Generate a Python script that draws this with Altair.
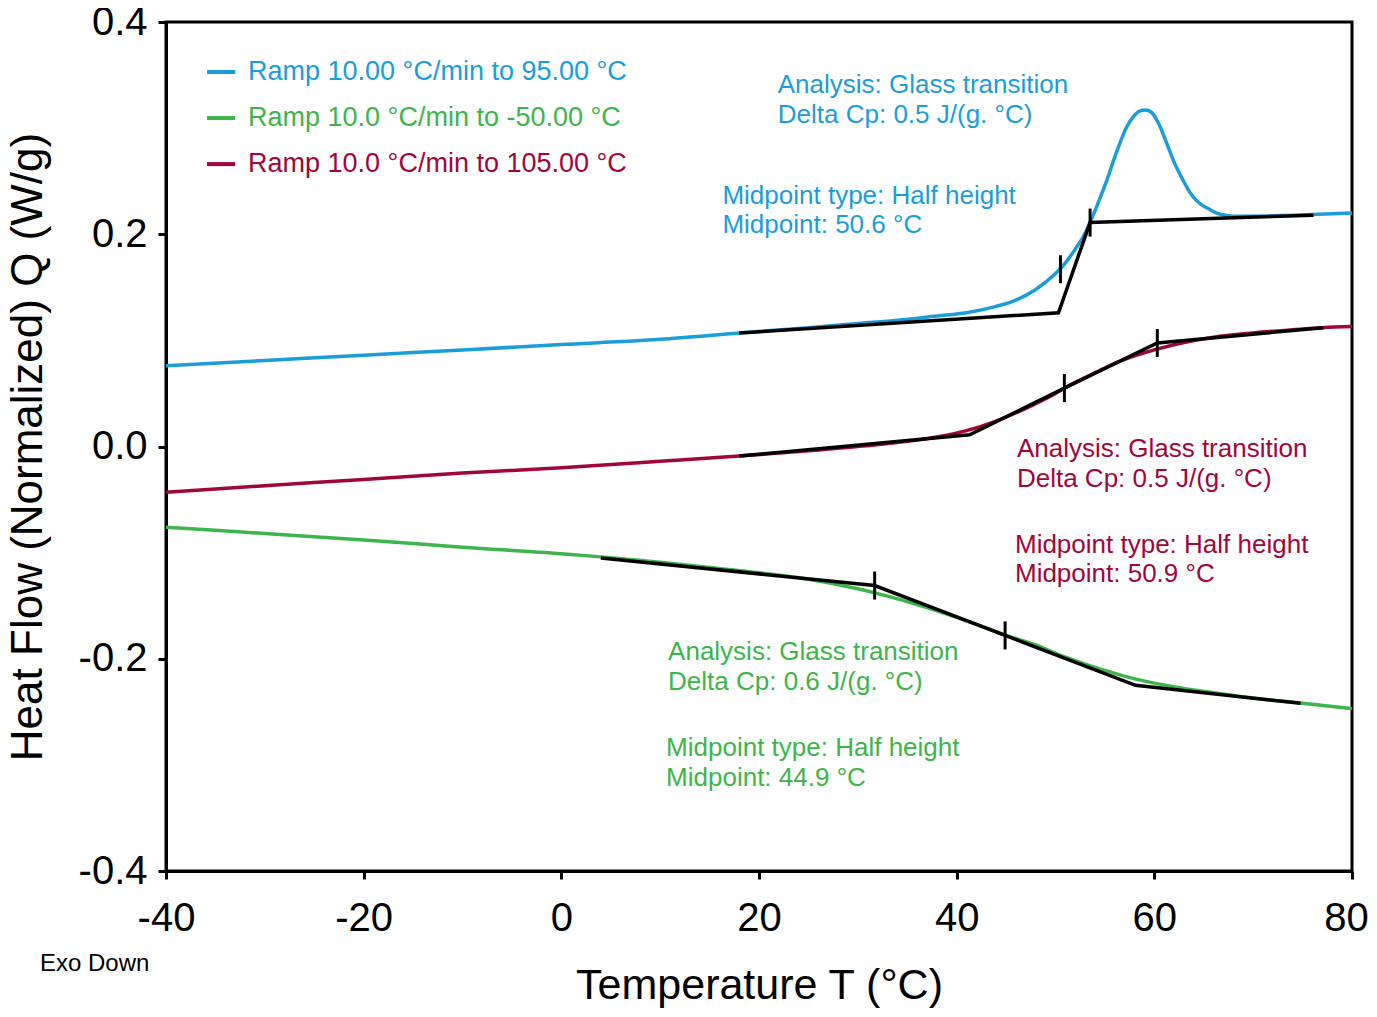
import altair as alt
import pandas as pd

# ---------------- data ----------------
series_names = ["Ramp 10.00 °C/min to 95.00 °C",
                "Ramp 10.0 °C/min to -50.00 °C",
                "Ramp 10.0 °C/min to 105.00 °C"]
series_colors = ["#1B9DD9", "#3DB54A", "#A1063B"]

blue_T = [-40, -30, -20, -10, 0, 10, 18, 25, 30, 34, 38, 41, 44, 46, 48, 50, 51, 52, 53,
          53.5, 54.5, 55.2, 56.2, 57.2, 57.9, 58.5, 59.1, 59.7, 60.4, 61.2, 62.0, 62.9,
          63.7, 64.6, 65.5, 66.3, 67.2, 68, 70, 74, 80]
blue_Q = [0.076, 0.081, 0.086, 0.091, 0.096, 0.101, 0.107, 0.112, 0.116, 0.119, 0.123, 0.126,
          0.132, 0.138, 0.148, 0.163, 0.173, 0.186, 0.201, 0.211, 0.234, 0.251, 0.278, 0.301,
          0.311, 0.316, 0.317, 0.315, 0.305, 0.287, 0.268, 0.251, 0.238, 0.229, 0.224, 0.220,
          0.218, 0.217, 0.217, 0.218, 0.220]

green_T = [-40, -30, -20, -10, 0, 4, 10, 15, 20, 25, 30, 33, 36, 40, 43, 45, 48, 50, 53, 55,
           58, 60, 63, 66, 70, 75, 80]
green_Q = [-0.076, -0.082, -0.088, -0.095, -0.101, -0.104, -0.109, -0.114, -0.119, -0.125,
           -0.134, -0.141, -0.149, -0.161, -0.171, -0.178, -0.187, -0.195, -0.205, -0.211,
           -0.219, -0.223, -0.228, -0.232, -0.237, -0.242, -0.247]

red_T = [-40, -30, -20, -10, 0, 10, 18, 25, 30, 35, 38, 41, 44, 47, 50, 50.9, 53, 55, 57, 60,
         63, 66, 70, 74, 77, 80]
red_Q = [-0.043, -0.037, -0.031, -0.025, -0.020, -0.014, -0.009, -0.004, 0.000, 0.005, 0.009,
         0.015, 0.024, 0.036, 0.050, 0.055, 0.065, 0.074, 0.082, 0.091, 0.098, 0.103, 0.107,
         0.110, 0.112, 0.113]

# analysis construction lines (black)
blue_base_T = [18, 50.3, 53.5, 76.1]
blue_base_Q = [0.107, 0.126, 0.211, 0.218]
green_base_T = [4, 31.7, 44.9, 58.1, 74.8]
green_base_Q = [-0.105, -0.131, -0.178, -0.225, -0.242]
red_base_T = [18, 41.3, 50.9, 60.3, 77.1]
red_base_Q = [-0.009, 0.011, 0.055, 0.0975, 0.112]

# onset / midpoint markers
mark_T = [50.5, 53.5, 31.7, 44.9, 50.9, 60.3]
mark_Q = [0.167, 0.211, -0.131, -0.178, 0.055, 0.0975]

# annotation texts (anchor in data units: T, Q)
ann_text = ["Analysis: Glass transition", "Delta Cp: 0.5 J/(g. °C)",
            "Midpoint type: Half height", "Midpoint: 50.6 °C",
            "Analysis: Glass transition", "Delta Cp: 0.5 J/(g. °C)",
            "Midpoint type: Half height", "Midpoint: 50.9 °C",
            "Analysis: Glass transition", "Delta Cp: 0.6 J/(g. °C)",
            "Midpoint type: Half height", "Midpoint: 44.9 °C"]
ann_series = [0, 0, 0, 0, 2, 2, 2, 2, 1, 1, 1, 1]
ann_T = [21.9, 21.9, 16.3, 16.3, 46.1, 46.1, 45.9, 45.9, 10.8, 10.8, 10.6, 10.6]
ann_Q = [0.3406, 0.3124, 0.2360, 0.2087, -0.0024, -0.0306, -0.0928, -0.1201,
         -0.1936, -0.2219, -0.2841, -0.3124]

x_ticks = [-40, -20, 0, 20, 40, 60, 80]
y_ticks = [-0.4, -0.2, 0.0, 0.2, 0.4]

FONT = "Liberation Sans"

# ---------------- tables ----------------
def curve_df(T, Q, s):
    return pd.DataFrame({"T": T, "Q": Q, "series": series_names[s], "i": range(len(T))})

curves = pd.concat([curve_df(blue_T, blue_Q, 0), curve_df(green_T, green_Q, 1),
                    curve_df(red_T, red_Q, 2)])
bases = pd.concat([curve_df(blue_base_T, blue_base_Q, 0), curve_df(green_base_T, green_base_Q, 1),
                   curve_df(red_base_T, red_base_Q, 2)])
marks = pd.DataFrame({"T": mark_T, "Q": mark_Q})
ann = pd.DataFrame({"T": ann_T, "Q": ann_Q, "text": ann_text,
                    "series": [series_names[k] for k in ann_series]})

leg = pd.DataFrame({"series": series_names, "k": range(3)})
leg["y"] = 0.3529 - leg["k"] * 0.0434
leg["x0"] = -35.85
leg["x1"] = -33.0
leg["xt"] = -31.7

exo = pd.DataFrame({"T": [-52.75], "Q": [-0.4876], "text": ["Exo Down"]})

xscale = alt.Scale(domain=[-40, 80], nice=False, zero=False)
yscale = alt.Scale(domain=[-0.4, 0.4], nice=False, zero=False)
cscale = alt.Scale(domain=series_names, range=series_colors)

xaxis = alt.Axis(values=x_ticks, title="Temperature T (°C)",
                 labelExpr="datum.value < 0 ? '-' + format(-datum.value, 'd') : format(datum.value, 'd')",
                 labelOffset={"condition": {"test": "datum.value === 80", "value": -6}, "value": 0},
                 labelFontSize=40, titleFontSize=43, labelPadding=19, titlePadding=26,
                 labelFlush=False, labelOverlap=False,
                 tickSize=8, tickWidth=3, domainWidth=3, grid=False,
                 labelFont=FONT, titleFont=FONT, titleFontWeight="normal",
                 labelColor="black", titleColor="black", domainColor="black", tickColor="black")
yaxis = alt.Axis(values=y_ticks, title="Heat Flow (Normalized) Q (W/g)",
                 labelExpr="datum.value < 0 ? '-' + format(-datum.value, '.1f') : format(datum.value, '.1f')",
                 labelFontSize=40, titleFontSize=44, labelPadding=11, titlePadding=28,
                 labelFlush=False, labelOverlap=False,
                 tickSize=8, tickWidth=3, domainWidth=3, grid=False,
                 labelFont=FONT, titleFont=FONT, titleFontWeight="normal",
                 labelColor="black", titleColor="black", domainColor="black", tickColor="black")

X = alt.X("T:Q", scale=xscale, axis=xaxis)
Y = alt.Y("Q:Q", scale=yscale, axis=yaxis)

curve_layer = alt.Chart(curves).mark_line(strokeWidth=3.5, interpolate="monotone").encode(
    x=X, y=Y, order="i:Q",
    color=alt.Color("series:N", scale=cscale, legend=None))

base_layer = alt.Chart(bases).mark_line(strokeWidth=3.5, color="black").encode(
    x="T:Q", y="Q:Q", detail="series:N", order="i:Q")

tick_layer = alt.Chart(marks).mark_tick(orient="vertical", size=28, thickness=3, color="black",
                                        opacity=1).encode(x="T:Q", y="Q:Q")

ann_layer = alt.Chart(ann).mark_text(font=FONT, fontSize=26, align="left", baseline="middle").encode(
    x="T:Q", y="Q:Q", text="text:N",
    color=alt.Color("series:N", scale=cscale, legend=None))

leg_rule = alt.Chart(leg).mark_rule(strokeWidth=4).encode(
    x="x0:Q", x2="x1:Q", y="y:Q",
    color=alt.Color("series:N", scale=cscale, legend=None))
leg_text = alt.Chart(leg).mark_text(font=FONT, fontSize=27, align="left", baseline="middle").encode(
    x="xt:Q", y="y:Q", text="series:N",
    color=alt.Color("series:N", scale=cscale, legend=None))

exo_layer = alt.Chart(exo).mark_text(font=FONT, fontSize=24, align="left", baseline="middle",
                                     color="black").encode(x="T:Q", y="Q:Q", text="text:N")

chart = alt.layer(curve_layer, base_layer, tick_layer, ann_layer, leg_rule, leg_text, exo_layer).properties(
    width=1186, height=849,
    background="white",
    autosize=alt.AutoSizeParams(type="none"),
    padding={"left": 158, "top": 14, "right": 17, "bottom": 138},
).configure_view(stroke="black", strokeWidth=3)

chart.save("out.html", embed_options={"renderer": "svg", "actions": False})
